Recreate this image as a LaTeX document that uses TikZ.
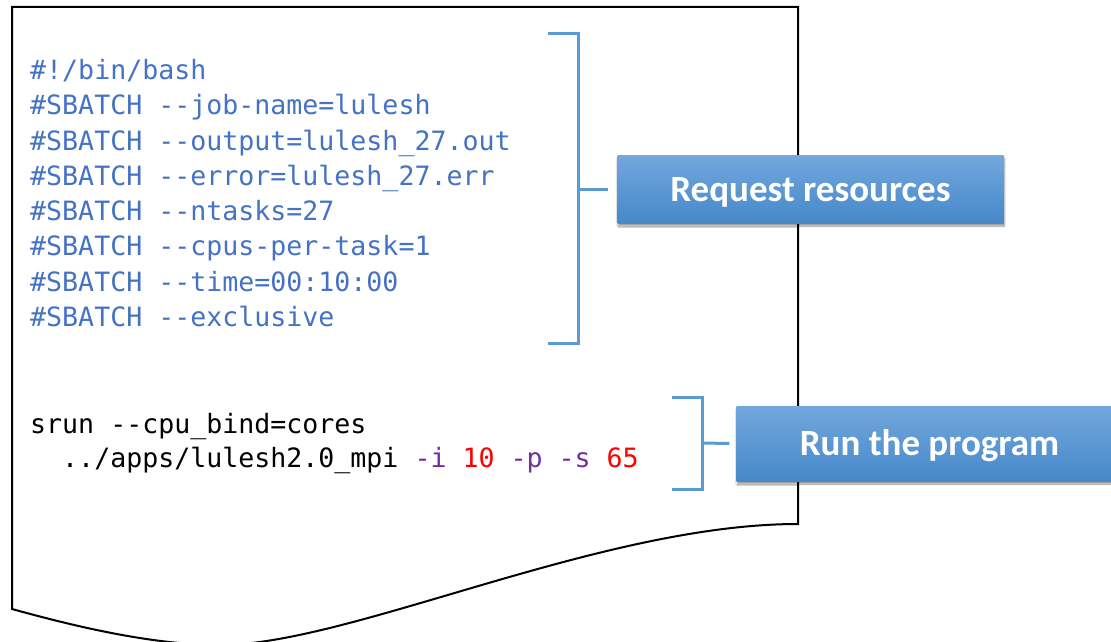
\documentclass[tikz,border=0pt]{standalone}
\usepackage{fontspec}
\setmonofont{DejaVu Sans Mono}
\newfontfamily\labelfont{Carlito}
\usetikzlibrary{positioning,shadows.blur}

\definecolor{codeblue}{HTML}{4472C4}
\definecolor{optpurple}{HTML}{7030A0}
\definecolor{numred}{HTML}{FF0000}
\definecolor{bracketblue}{HTML}{5B9BD5}
\definecolor{boxtop}{HTML}{72A8DD}
\definecolor{boxbottom}{HTML}{4688C9}

\tikzset{
  codeline/.style={anchor=base west, inner sep=0pt,
    font=\ttfamily\fontsize{26.6}{35}\selectfont},
  labelbox/.style={top color=boxtop, bottom color=boxbottom, text=white,
    minimum width=386pt, inner sep=0pt, text height=24pt, text depth=0pt,
    font=\labelfont\bfseries\fontsize{37}{40}\selectfont,
    blur shadow={shadow xshift=1pt, shadow yshift=-3pt, shadow blur steps=6}},
  bracket/.style={draw=bracketblue, line width=3pt},
  page/.style={draw=black, line width=2pt, fill=white}
}

\begin{document}
\begin{tikzpicture}[x=1pt,y=-1pt]

        \useasboundingbox (0,0) rectangle (1111,642);

        % the job script sheet
        \draw[page] (12,7) -- (798,7) -- (798,524)
          .. controls (600,524) and (350,645) .. (220,645)
          .. controls (150,645) and (70,625) .. (12,609) -- cycle;

        \begin{scope}[every node/.style={codeline, text=codeblue}]
          \node (l1) at (30,79)  {\#!/bin/bash};
          \node (l2) at (30,114) {\#SBATCH --job-name=lulesh};
          \node (l3) at (30,150) {\#SBATCH --output=lulesh\_27.out};
          \node (l4) at (30,185) {\#SBATCH --error=lulesh\_27.err};
          \node (l5) at (30,220) {\#SBATCH --ntasks=27};
          \node (l6) at (30,255) {\#SBATCH --cpus-per-task=1};
          \node (l7) at (30,291) {\#SBATCH --time=00:10:00};
          \node (l8) at (30,326) {\#SBATCH --exclusive};
        \end{scope}

        \begin{scope}[every node/.style={codeline, text=black}]
          \node (s1) at (30,433) {srun --cpu\_bind=cores};
          \node (s2) at (30,467) {\ \ ../apps/lulesh2.0\_mpi
            \textcolor{optpurple}{-i} \textcolor{numred}{10}
            \textcolor{optpurple}{-p} \textcolor{optpurple}{-s}
            \textcolor{numred}{65}};
        \end{scope}

        % brackets
        \coordinate (restop) at (548,34);
        \coordinate (resbot) at (548,343);
        \coordinate (resmid) at (578,189);
        \coordinate (runtop) at (672,397);
        \coordinate (runbot) at (672,489);
        \coordinate (runmid) at (702,443);

        \draw[bracket] (restop) -| (resmid) |- (resbot);
        \draw[bracket] (runtop) -| (runmid) |- (runbot);

        \node[labelbox, minimum height=68pt] (req) at (810.5,189) {Request resources};
        \node[labelbox, minimum height=75pt] (run) at (929.5,443.5) {Run the program};

        \draw[bracket] (resmid) -- ([xshift=-9pt]req.west);
        \draw[bracket] (runmid) -- ([xshift=-7pt]run.west);

      \end{tikzpicture}
\end{document}
